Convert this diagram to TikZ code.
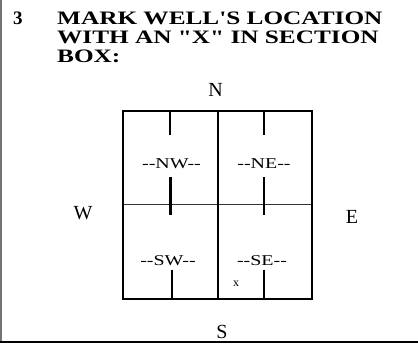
\documentclass[tikz,border=0pt]{standalone}
\usepackage{fontspec}
\setmainfont{Liberation Serif}[Ligatures=TeXOff]
\newfontfamily\wideserif{Liberation Serif}[FakeStretch=1.33,Ligatures=TeXOff]

\begin{document}
\begin{tikzpicture}[x=1pt, y=-1pt,
    heading/.style={anchor=base west, inner sep=0,
    font=\wideserif\bfseries\fontsize{19}{19}\selectfont},
    compass/.style={anchor=base, inner sep=0, font=\fontsize{20}{20}\selectfont},
    quadrant/.style={anchor=base, inner sep=0, font=\wideserif\fontsize{15}{15}\selectfont},
    tickmark/.style={line width=2.8pt}]

    \useasboundingbox (0,0) rectangle (418,345);

    % Frame
    \draw[line width=1.4pt, black!55] (1,0) -- (1,342);
    \draw[line width=2.6pt] (0,342) -- (418,342);

    % Heading
    \node[anchor=base west, inner sep=0, font=\bfseries\fontsize{19}{19}\selectfont]
    (num) at (13,25) {3};
    \node[heading] (head1) at (57,25) {MARK WELL'S LOCATION};
    \node[heading] (head2) at (57,44) {WITH AN "X" IN SECTION};
    \node[heading] (head3) at (57,63) {BOX:};

    % Directions
    \node[compass] (N) at (215.5,96) {N};
    \node[compass] (W) at (83,219) {W};
    \node[compass] (E) at (352,223) {E};
    \node[compass] (S) at (222,338) {S};

    % Section box
    \draw[line width=1.2pt, black!80] (123,204.5) -- (312,204.5);
    \draw[line width=2.2pt] (123,111) rectangle (312,299);
    \draw[line width=2.4pt] (218,111) -- (218,299);

    % Ticks
    \foreach \tx/\ya/\yb in {170/111/135, 264/111/135, 170.5/177/215,
        264/177/215, 172/270/299, 264/270/299}
    \draw[tickmark] (\tx,\ya) -- (\tx,\yb);

    % Quadrants
    \node[quadrant] (NW) at (171.5,168.5) {--NW--};
    \node[quadrant] (NE) at (264,168.5) {--NE--};
    \node[quadrant] (SW) at (168,265) {--SW--};
    \node[quadrant] (SE) at (262,265) {--SE--};
    \node[anchor=base, inner sep=0, font=\fontsize{12}{12}\selectfont]
    (mark) at (236,286) {x};

\end{tikzpicture}
\end{document}
